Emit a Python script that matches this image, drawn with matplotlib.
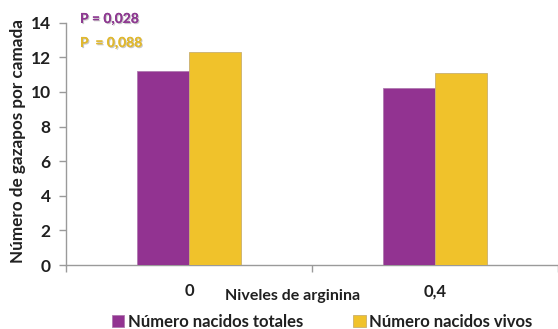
import matplotlib
matplotlib.use("Agg")
import matplotlib.pyplot as plt
import matplotlib.patheffects as pe
import numpy as np

# Data
categories = ["0", "0,4"]
nacidos_totales = [11.2, 10.2]
nacidos_vivos = [12.3, 11.1]
y_ticks = [0, 2, 4, 6, 8, 10, 12, 14]
p_totales = "P = 0,028"
p_vivos = "P  = 0,088"

purple = "#923391"
yellow = "#F0C22B"
axis_grey = "#9a9a9a"
text_dark = "#202020"

plt.rcParams["font.family"] = ["Lato", "DejaVu Sans"]
plt.rcParams["font.weight"] = "bold"

fig = plt.figure(figsize=(5.58, 3.29), dpi=100)
ax = fig.add_axes([66 / 558, 64 / 329, 492 / 558, 242.3 / 329])

x = np.arange(len(categories))
w = 0.21
ax.bar(x - w / 2, nacidos_totales, width=w, color=purple,
       edgecolor="#b07ab0", linewidth=0.6, label="Número nacidos totales", zorder=3)
ax.bar(x + w / 2, nacidos_vivos, width=w, color=yellow,
       edgecolor="#c9b070", linewidth=0.6, label="Número nacidos vivos", zorder=3)

ax.set_xlim(-0.5, 1.5)
ax.set_ylim(0, 14)
ax.set_yticks(y_ticks)
ax.set_yticklabels([str(t) for t in y_ticks], fontsize=12.5, fontweight="bold",
                   color=text_dark)

# Category axis: ticks between groups, labels under each group
ax.set_xticks([-0.5, 0.5, 1.5])
ax.set_xticklabels([])
ax.set_xticks(x, minor=True)
ax.set_xticklabels(categories, minor=True, fontsize=12, fontweight="bold",
                   color=text_dark)
ax.tick_params(axis="x", which="minor", length=0, pad=13)
ax.tick_params(axis="x", which="major", length=5, color=axis_grey, width=1)
ax.tick_params(axis="y", length=5, color=axis_grey, width=1, pad=6)

for s in ["top", "right"]:
    ax.spines[s].set_visible(False)
for s in ["left", "bottom"]:
    ax.spines[s].set_color(axis_grey)
    ax.spines[s].set_linewidth(1)

ax.set_ylabel("Número de gazapos por camada", fontsize=12.3, fontweight="bold",
              color=text_dark)
ax.yaxis.set_label_coords(-0.082, 0.51)

fig.text(293 / 558, 1 - 296 / 329, "Niveles de arginina", ha="center",
         va="center", fontsize=11.5, fontweight="bold", color=text_dark)

shadow = [pe.withSimplePatchShadow(offset=(0.8, -0.8), shadow_rgbFace="#bbbbbb",
                                   alpha=0.8), pe.Normal()]
fig.text(80 / 558, 1 - 19 / 329, p_totales, ha="left", va="center",
         fontsize=10, fontweight="bold", color="#8E3A91", path_effects=shadow)
fig.text(80 / 558, 1 - 43 / 329, p_vivos, ha="left", va="center",
         fontsize=10, fontweight="bold", color="#E0B830", path_effects=shadow)

leg = fig.legend(loc="center", bbox_to_anchor=(322 / 558, 1 - 322 / 329),
                 ncol=2, frameon=False, fontsize=12, handlelength=0.75,
                 handleheight=0.75, handletextpad=0.2, columnspacing=3.0)
for t in leg.get_texts():
    t.set_fontweight("bold")
    t.set_color(text_dark)

fig.savefig("out.png", dpi=100)
